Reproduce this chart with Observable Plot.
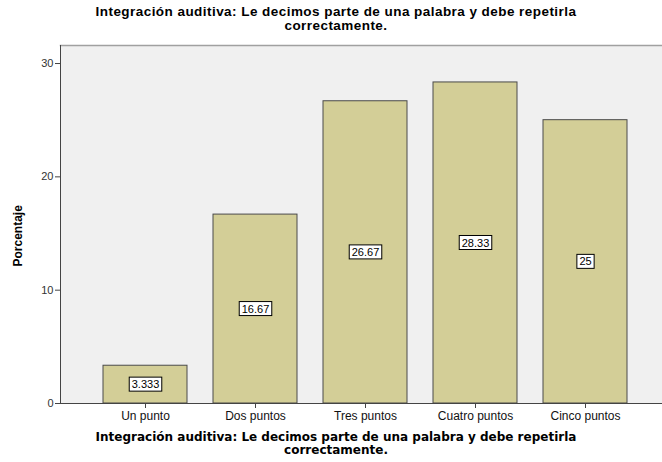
<!DOCTYPE html>
<html><head><meta charset="utf-8">
<script src="https://cdn.jsdelivr.net/npm/d3@7"></script>
<script src="https://cdn.jsdelivr.net/npm/@observablehq/plot@0.6"></script>
<style>
html,body{margin:0;padding:0;background:#fff;}
body{width:662px;height:462px;overflow:hidden;font-family:"Liberation Sans",Arial,sans-serif;}
#title{height:40px;box-sizing:border-box;padding-top:5px;padding-left:10px;text-align:center;font-weight:bold;font-size:13.5px;line-height:13.5px;letter-spacing:0.45px;color:#000;}
#xtitle{height:40px;box-sizing:border-box;padding-top:9px;padding-left:10px;text-align:center;font-family:"DejaVu Sans",Verdana,sans-serif;font-weight:bold;font-size:12px;line-height:13px;color:#000;}
#chart svg{display:block;overflow:visible;}
</style></head>
<body>
<div id="title">Integración auditiva: Le decimos parte de una palabra y debe repetirla<br>correctamente.</div>
<div id="chart"></div>
<div id="xtitle">Integración auditiva: Le decimos parte de una palabra y debe repetirla<br>correctamente.</div>
<script>
const categories = ["Un punto", "Dos puntos", "Tres puntos", "Cuatro puntos", "Cinco puntos"];
const values = [3.333, 16.67, 26.67, 28.33, 25];
const valueLabels = ["3.333", "16.67", "26.67", "28.33", "25"];
const yTicks = [0, 10, 20, 30];
const yLabel = "Porcentaje";

const data = categories.map((c, i) => ({cat: c, value: values[i], label: valueLabels[i]}));

const plot = Plot.plot({
  width: 662,
  height: 382,
  marginTop: 5,
  marginLeft: 60,
  marginRight: 0,
  marginBottom: 19,
  style: {background: "transparent", fontFamily: "'Liberation Sans', Arial, sans-serif", fontSize: "11px", color: "#000", overflow: "visible"},
  x: {domain: categories, range: [60, 670], paddingInner: 0.236, paddingOuter: 0.39, label: null},
  y: {domain: [0, 31.59], label: null},
  marks: [
    Plot.frame({fill: "#f0f0f0", stroke: null}),
    Plot.frame({anchor: "top", stroke: "#a0a0a0", strokeWidth: 1.5}),
    Plot.barY(data, {x: "cat", y: "value", fill: "#d3ce97", stroke: "#4a4a4a", strokeWidth: 1}),
    Plot.frame({anchor: "left", stroke: "#444"}),
    Plot.ruleY([0], {stroke: "#444"}),
    Plot.axisY({ticks: yTicks, tickSize: 5, tickPadding: 2, label: null, stroke: "#444", fill: "#333"}),
    Plot.axisX({tickSize: 5, tickPadding: 3, label: null, stroke: "#444", fill: "#111", fontSize: 12}),
    Plot.text([yLabel], {frameAnchor: "left", rotate: -90, dx: -42, dy: 42, fontWeight: "bold", fontSize: 12, fill: "#000"}),
    Plot.text(data, {x: "cat", y: d => d.value / 2, text: "label", fontSize: 11, fill: "#000"})
  ]
});

document.getElementById("chart").appendChild(plot);

// add white boxes behind the value labels
const groups = plot.querySelectorAll('g[aria-label="text"]');
groups.forEach(g => {
  const texts = g.querySelectorAll("text");
  if (texts.length !== data.length) return;
  texts.forEach(t => {
    const b = t.getBBox();
    const r = document.createElementNS("http://www.w3.org/2000/svg", "rect");
    const tr = t.getAttribute("transform");
    if (tr) r.setAttribute("transform", tr);
    r.setAttribute("x", b.x - 2.5);
    r.setAttribute("y", b.y - 1);
    r.setAttribute("width", b.width + 5);
    r.setAttribute("height", b.height + 2);
    r.setAttribute("fill", "#fff");
    r.setAttribute("stroke", "#000");
    r.setAttribute("stroke-width", 1);
    g.insertBefore(r, t);
  });
});
</script>
</body></html>
